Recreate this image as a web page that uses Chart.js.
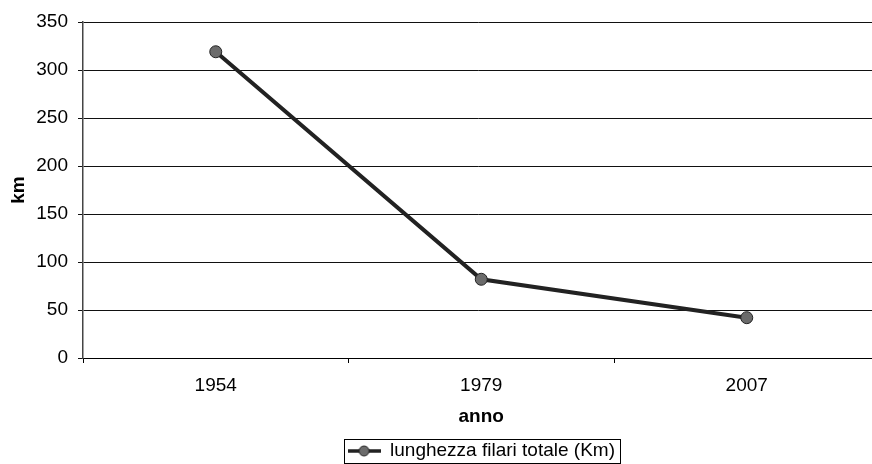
<!DOCTYPE html>
<html>
<head>
<meta charset="utf-8">
<script src="https://cdn.jsdelivr.net/npm/chart.js"></script>
<style>
  html, body { margin: 0; padding: 0; background: #fff; overflow: hidden; }
  #myChart { display: block; }
</style>
</head>
<body>
<canvas id="myChart" width="872" height="464"></canvas>
<script>
// dati
const anni = ['1954', '1979', '2007'];
const lunghezzaFilari = [319, 82, 42];
const serieLabel = 'lunghezza filari totale (Km)';
const yMin = 0;
const yMax = 350;
const yStep = 50;

const FONT = '"Liberation Sans", Arial, sans-serif';
const LINE_COLOR = '#222222';
const POINT_FILL = '#6b6b6b';

// simbolo della legenda: linea con cerchio
function legendSymbol() {
  const c = document.createElement('canvas');
  c.width = 33;
  c.height = 12;
  const ctx = c.getContext('2d');
  ctx.strokeStyle = LINE_COLOR;
  ctx.lineWidth = 3.5;
  ctx.beginPath();
  ctx.moveTo(0, 6);
  ctx.lineTo(33, 6);
  ctx.stroke();
  ctx.beginPath();
  ctx.arc(16.5, 6, 5, 0, Math.PI * 2);
  ctx.fillStyle = POINT_FILL;
  ctx.fill();
  ctx.lineWidth = 1;
  ctx.stroke();
  return c;
}

// l'area del grafico originale esce oltre il bordo destro
const extendRight = {
  id: 'extendRight',
  afterLayout(chart) {
    const extra = 7.5;
    const x = chart.scales.x;
    chart.chartArea.right += extra;
    chart.chartArea.width += extra;
    x.right += extra;
    x.width += extra;
    x.configure();
    if (chart.legend) {
      chart.legend.left += extra / 2;
      chart.legend.right += extra / 2;
    }
  }
};

// cornice attorno alla legenda
const legendBorder = {
  id: 'legendBorder',
  afterDraw(chart) {
    const legend = chart.legend;
    if (!legend || !legend.legendHitBoxes || !legend.legendHitBoxes.length) return;
    const hb = legend.legendHitBoxes[0];
    const ctx = chart.ctx;
    const cy = hb.top + hb.height / 2;
    const left = Math.round(hb.left) - 3.5;
    const right = Math.round(hb.left + hb.width) + 5.5;
    const top = Math.round(cy - 12) + 0.5;
    const bottom = Math.round(cy + 12) + 0.5;
    ctx.save();
    ctx.strokeStyle = '#000';
    ctx.lineWidth = 1;
    ctx.strokeRect(left, top, right - left, bottom - top);
    ctx.restore();
  }
};

const chartCanvas = document.getElementById('myChart');
new Chart(chartCanvas, {
  type: 'line',
  data: {
    labels: anni,
    datasets: [{
      label: serieLabel,
      data: lunghezzaFilari,
      borderColor: LINE_COLOR,
      borderWidth: 4,
      backgroundColor: POINT_FILL,
      pointBackgroundColor: POINT_FILL,
      pointBorderColor: LINE_COLOR,
      pointBorderWidth: 1,
      pointRadius: 6,
      tension: 0,
      fill: false
    }]
  },
  options: {
    responsive: false,
    animation: false,
    layout: { autoPadding: false, padding: { top: 22, left: 0, right: 0, bottom: 0 } },
    scales: {
      x: {
        type: 'category',
        offset: true,
        grid: {
          offset: true,
          drawOnChartArea: false,
          drawTicks: true,
          tickLength: 5,
          color: '#000'
        },
        border: { color: '#000', width: 1 },
        ticks: {
          padding: 11,
          color: '#000',
          font: { family: FONT, size: 19 },
          maxRotation: 0
        },
        title: {
          display: true,
          text: 'anno',
          color: '#000',
          font: { family: FONT, size: 19, weight: 'bold' },
          padding: { top: 0, bottom: 13 }
        },
        afterFit(scale) {
          scale.height = 83.5;
          scale.paddingLeft = 0;
          scale.paddingRight = 0;
        }
      },
      y: {
        min: yMin,
        max: yMax,
        ticks: {
          stepSize: yStep,
          padding: 10,
          color: '#000',
          font: { family: FONT, size: 19 }
        },
        grid: {
          color: '#111',
          lineWidth: 1,
          drawTicks: true,
          tickLength: 5
        },
        border: { color: '#444', width: 1.5 },
        title: {
          display: true,
          text: 'km',
          color: '#000',
          font: { family: FONT, size: 19, weight: 'bold' },
          padding: { top: 7, bottom: 0 }
        },
        afterFit(scale) { scale.width = 83; }
      }
    },
    plugins: {
      legend: {
        display: true,
        position: 'bottom',
        fullSize: false,
        maxHeight: 22.5,
        labels: {
          usePointStyle: true,
          pointStyle: legendSymbol(),
          pointStyleWidth: 33,
          padding: 0,
          color: '#000',
          font: { family: FONT, size: 19 }
        }
      },
      tooltip: { enabled: false }
    }
  },
  plugins: [extendRight, legendBorder]
});
</script>
</body>
</html>
